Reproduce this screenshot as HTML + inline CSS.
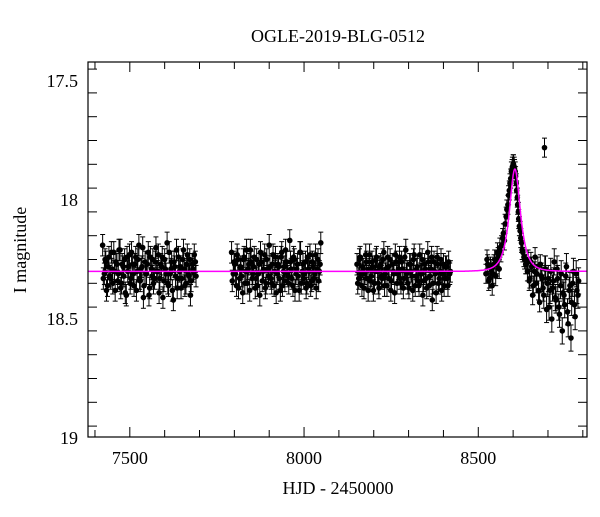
<!DOCTYPE html>
<html><head><meta charset="utf-8"><style>
body{margin:0;background:#fff;}
svg text{font-family:"Liberation Serif",serif;fill:#000;}
</style></head><body>
<svg width="600" height="512">
<g id="marks"></g>
<path id="model" fill="none" stroke="#ff00ff" stroke-width="1.5"/>
<rect x="88" y="62" width="499" height="375" fill="none" stroke="#000" stroke-width="1.2"/>
<g id="axes"></g>
<text x="338" y="42" font-size="18" text-anchor="middle">OGLE-2019-BLG-0512</text>
<text x="338" y="494" font-size="18" text-anchor="middle">HJD - 2450000</text>
<text x="26" y="250" font-size="18" text-anchor="middle" transform="rotate(-90 26 250)">I magnitude</text>
</svg>
<script>
const xTicks=[7500,8000,8500];
const yTicks=[17.5,18,18.5,19];
const t1=[7422,7427,7431,7436,7440,7445,7449,7454,7458,7463,7467,7472,7476,7481,7485,7490,7494,7499,7503,7508,7512,7517,7521,7526,7530,7535,7539,7544,7548,7553,7557,7562,7566,7571,7575,7580,7584,7589,7593,7598,7602,7607,7611,7616,7620,7625,7629,7634,7638,7643,7647,7652,7656,7661,7665,7670,7674,7679,7683,7688];
const m1=[18.19,18.31,18.26,18.36,18.24,18.33,18.29,18.22,18.38,18.27,18.31,18.21,18.35,18.28,18.25,18.40,18.30,18.23,18.33,18.27,18.36,18.24,18.30,18.19,18.34,18.28,18.41,18.26,18.31,18.22,18.37,18.29,18.25,18.33,18.20,18.30,18.39,18.27,18.24,18.34,18.29,18.18,18.36,18.31,18.26,18.42,18.28,18.21,18.33,18.30,18.37,18.25,18.29,18.35,18.23,18.32,18.40,18.27,18.30,18.26];
const t1b=[7424,7429,7433,7438,7442,7447,7451,7456,7460,7465,7469,7474,7478,7483,7487,7492,7496,7501,7505,7510,7514,7519,7523,7528,7532,7537,7541,7546,7550,7555,7559,7564,7568,7573,7577,7582,7586,7591,7595,7600,7604,7609,7613,7618,7622,7627,7631,7636,7640,7645,7649,7654,7658,7663,7667,7672,7676,7681,7685,7690];
const m1b=[18.33,18.25,18.38,18.28,18.32,18.22,18.35,18.30,18.26,18.34,18.21,18.37,18.27,18.32,18.39,18.24,18.28,18.35,18.22,18.31,18.27,18.38,18.25,18.33,18.29,18.20,18.36,18.31,18.27,18.40,18.24,18.32,18.35,18.26,18.30,18.23,18.33,18.28,18.41,18.25,18.31,18.35,18.22,18.29,18.38,18.26,18.32,18.37,18.24,18.28,18.33,18.21,18.36,18.27,18.31,18.25,18.34,18.29,18.23,18.32];
const t2=[7792,7797,7801,7806,7810,7815,7819,7824,7828,7833,7837,7842,7846,7851,7855,7860,7864,7869,7873,7878,7882,7887,7891,7896,7900,7905,7909,7914,7918,7923,7927,7932,7936,7941,7945,7950,7954,7959,7963,7968,7972,7977,7981,7986,7990,7995,7999,8004,8008,8013,8017,8022,8026,8031,8035,8040,8044,8048];
const m2=[18.22,18.31,18.27,18.36,18.25,18.33,18.29,18.39,18.24,18.30,18.35,18.27,18.21,18.33,18.28,18.37,18.25,18.31,18.40,18.26,18.30,18.23,18.35,18.29,18.19,18.33,18.27,18.36,18.24,18.31,18.28,18.38,18.22,18.30,18.34,18.26,18.32,18.17,18.29,18.36,18.25,18.31,18.27,18.38,18.22,18.30,18.33,18.26,18.35,18.29,18.23,18.34,18.28,18.31,18.37,18.25,18.30,18.18];
const t2b=[7794,7799,7803,7808,7812,7817,7821,7826,7830,7835,7839,7844,7848,7853,7857,7862,7866,7871,7875,7880,7884,7889,7893,7898,7902,7907,7911,7916,7920,7925,7929,7934,7938,7943,7947,7952,7956,7961,7965,7970,7974,7979,7983,7988,7992,7997,8001,8006,8010,8015,8019,8024,8028,8033,8037,8042,8046];
const m2b=[18.34,18.26,18.31,18.23,18.37,18.28,18.32,18.25,18.35,18.21,18.29,18.38,18.26,18.31,18.24,18.33,18.36,18.27,18.22,18.34,18.29,18.37,18.25,18.32,18.28,18.35,18.23,18.30,18.39,18.27,18.33,18.24,18.36,18.28,18.21,18.31,18.35,18.26,18.33,18.24,18.38,18.29,18.32,18.22,18.35,18.27,18.31,18.37,18.24,18.30,18.36,18.26,18.33,18.23,18.29,18.34,18.27];
const t3=[8152,8157,8161,8166,8170,8175,8179,8184,8188,8193,8197,8202,8206,8211,8215,8220,8224,8229,8233,8238,8242,8247,8251,8256,8260,8265,8269,8274,8278,8283,8287,8292,8296,8301,8305,8310,8314,8319,8323,8328,8332,8337,8341,8346,8350,8355,8359,8364,8368,8373,8377,8382,8386,8391,8395,8400,8404,8409,8413,8418];
const m3=[18.27,18.33,18.24,18.36,18.29,18.31,18.26,18.38,18.23,18.32,18.28,18.35,18.25,18.30,18.37,18.27,18.33,18.22,18.31,18.36,18.28,18.25,18.34,18.30,18.39,18.26,18.31,18.24,18.35,18.29,18.33,18.21,18.30,18.37,18.27,18.32,18.25,18.36,18.29,18.34,18.23,18.31,18.40,18.27,18.33,18.22,18.36,18.29,18.42,18.26,18.31,18.24,18.35,18.30,18.38,18.27,18.33,18.28,18.36,18.31];
const t3b=[8154,8159,8163,8168,8172,8177,8181,8186,8190,8195,8199,8204,8208,8213,8217,8222,8226,8231,8235,8240,8244,8249,8253,8258,8262,8267,8271,8276,8280,8285,8289,8294,8298,8303,8307,8312,8316,8321,8325,8330,8334,8339,8343,8348,8352,8357,8361,8366,8370,8375,8379,8384,8388,8393,8397,8402,8406,8411,8415,8420];
const m3b=[18.35,18.25,18.31,18.28,18.37,18.23,18.33,18.29,18.34,18.26,18.38,18.30,18.24,18.35,18.28,18.32,18.25,18.36,18.29,18.24,18.33,18.38,18.27,18.31,18.23,18.35,18.29,18.33,18.26,18.37,18.24,18.31,18.35,18.27,18.30,18.38,18.23,18.32,18.28,18.36,18.31,18.25,18.34,18.29,18.37,18.26,18.32,18.24,18.35,18.30,18.39,18.27,18.33,18.25,18.31,18.36,18.28,18.33,18.26,18.30];
const t4=[8522,8527,8532,8537,8542,8547,8552,8557,8562,8567,8572,8577,8582,8587,8591,8595,8598,8601,8604,8607,8610,8613,8616,8620,8624,8628,8633,8638,8643,8648,8653,8658,8663,8668,8673,8678,8683,8688,8693,8698,8703,8708,8713,8718,8723,8728,8733,8738,8743,8748,8753,8758,8763,8768,8773,8778,8783,8788,8690];
const m4=[18.31,18.27,18.33,18.29,18.31,18.25,18.27,18.24,18.20,18.19,18.14,18.10,18.04,17.98,17.93,17.88,17.86,17.85,17.87,17.90,17.96,18.02,18.08,18.13,18.18,18.22,18.25,18.27,18.25,18.33,18.28,18.36,18.24,18.31,18.38,18.27,18.33,18.40,18.29,18.35,18.45,18.30,18.37,18.26,18.42,18.33,18.48,18.31,18.39,18.44,18.28,18.52,18.36,18.43,18.30,18.49,18.38,18.34,17.78];
const t4b=[8525,8530,8535,8540,8545,8550,8555,8560,8565,8570,8575,8580,8585,8589,8593,8597,8600,8603,8606,8609,8612,8615,8618,8622,8626,8631,8636,8641,8646,8651,8656,8661,8666,8671,8676,8681,8686,8691,8696,8701,8706,8711,8716,8721,8726,8731,8736,8741,8746,8751,8756,8761,8766,8771,8776,8781,8786];
const m4b=[18.25,18.34,18.28,18.36,18.27,18.32,18.22,18.29,18.22,18.16,18.17,18.07,18.02,17.96,17.91,17.87,17.85,17.86,17.88,17.93,17.99,18.05,18.11,18.16,18.21,18.24,18.27,18.30,18.34,18.26,18.40,18.30,18.35,18.28,18.43,18.32,18.37,18.29,18.46,18.33,18.38,18.50,18.34,18.41,18.29,18.45,18.36,18.55,18.40,18.32,18.47,18.38,18.58,18.35,18.44,18.31,18.40];
const model={t0:8605,tE:24,u0:0.78,base:18.3};
const X=t=>88+(t-7380)*(499/1432);
const Y=m=>81+(m-17.5)*238;
const NS='http://www.w3.org/2000/svg';
const marks=document.getElementById('marks');
function add(p,tag,a){const e=document.createElementNS(NS,tag);for(const k in a)e.setAttribute(k,a[k]);p.appendChild(e);return e;}
function draw(ts,ms,name,err){
 ts.forEach((t,i)=>{
  const x=X(t),m=ms[i],e=err+(t>8680&&t<8800&&m>18?0.015:0);
  const g=add(marks,'g',{stroke:'#000','stroke-width':1});
  
  
  add(g,'line',{x1:x,x2:x,y1:Y(m-e),y2:Y(m+e)});
  add(g,'line',{x1:x-2.5,x2:x+2.5,y1:Y(m-e),y2:Y(m-e)});
  add(g,'line',{x1:x-2.5,x2:x+2.5,y1:Y(m+e),y2:Y(m+e)});
  add(g,'circle',{cx:x,cy:Y(m),r:2.8,fill:'#000',stroke:'none'});
 });
}
draw(t1,m1,'season1',0.045);draw(t1b,m1b,'season1',0.045);
draw(t2,m2,'season2',0.045);draw(t2b,m2b,'season2',0.045);
draw(t3,m3,'season3',0.045);draw(t3b,m3b,'season3',0.045);
draw(t4,m4,'season4',0.04);draw(t4b,m4b,'season4',0.04);
let d='';
for(let t=7380;t<=8812;t+=1){const u2=model.u0*model.u0+((t-model.t0)/model.tE)**2;const u=Math.sqrt(u2);
 const A=(u2+2)/(u*Math.sqrt(u2+4));const A0=(model.u0**2+2)/(model.u0*Math.sqrt(model.u0**2+4));
 const m=model.base-0.43*(A-1)/(A0-1);d+=(d?'L':'M')+X(t).toFixed(1)+','+Y(m).toFixed(1);}
document.getElementById('model').setAttribute('d',d);
const ax=document.getElementById('axes');
for(let t=7400;t<=8800;t+=100){const maj=t%500===0,L=maj?10:7,x=X(t);
 add(ax,'line',{x1:x,x2:x,y1:437,y2:437-L,stroke:'#000'});add(ax,'line',{x1:x,x2:x,y1:62,y2:62+L,stroke:'#000'});}
xTicks.forEach(t=>{const e=add(ax,'text',{x:X(t),y:464,'font-size':18,'text-anchor':'middle'});e.textContent=t;
 
 });
for(let k=0;k<=15;k++){const m=17.45+k*0.1;if(m>19.001)break;const mm=Math.round(m*100)/100;const maj=Math.abs(mm*2-Math.round(mm*2))<1e-6;
 const y=Y(mm),L=maj?19:9;add(ax,'line',{x1:88,x2:88+L,y1:y,y2:y,stroke:'#000'});add(ax,'line',{x1:587,x2:587-L,y1:y,y2:y,stroke:'#000'});}
yTicks.forEach(m=>{const e=add(ax,'text',{x:78,y:Y(m)+6,'font-size':18,'text-anchor':'end'});e.textContent=m;
 
 });
</script>
</body></html>
